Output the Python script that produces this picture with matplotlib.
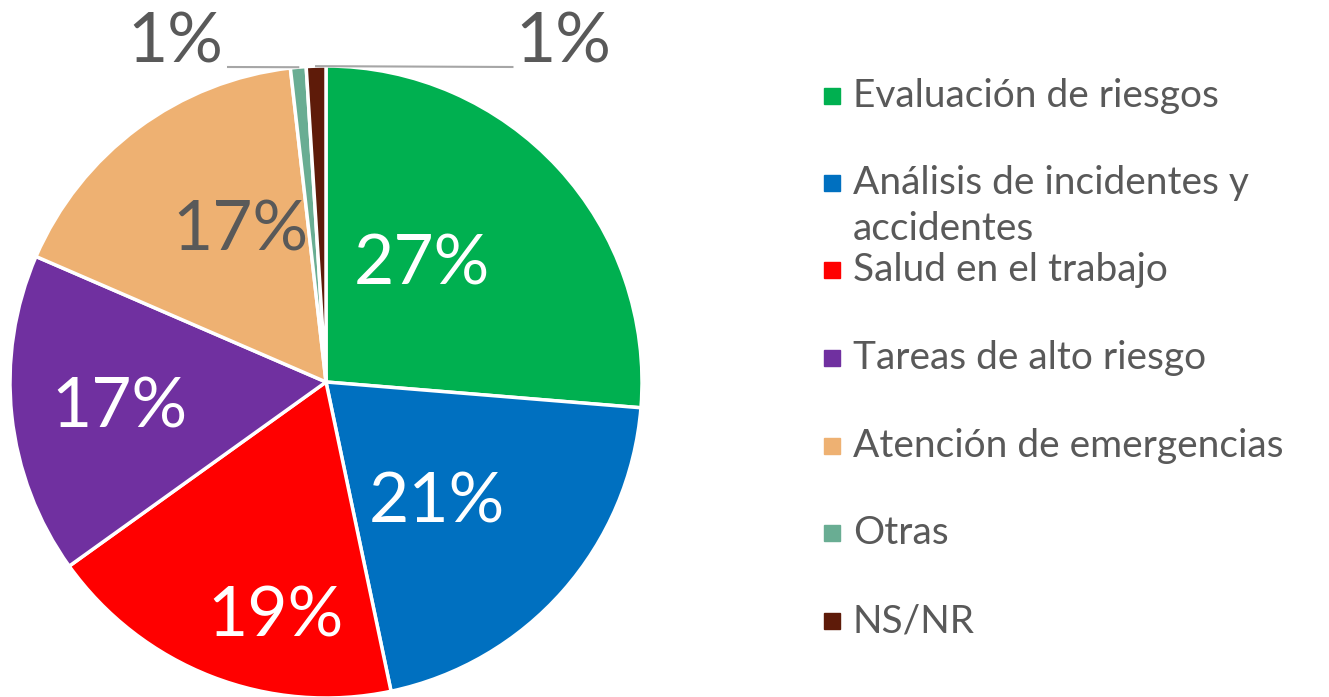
import numpy as np
import matplotlib.pyplot as plt
from matplotlib.patches import Rectangle

categories = ["Evaluación de riesgos", "Análisis de incidentes y\naccidentes",
              "Salud en el trabajo", "Tareas de alto riesgo",
              "Atención de emergencias", "Otras", "NS/NR"]
shares = [26.3, 20.4, 18.4, 16.4, 16.7, 0.8, 1.0]
pct_labels = ["27%", "21%", "19%", "17%", "17%", "1%", "1%"]
colours = ["#00B050", "#0070C0", "#FF0000", "#7030A0", "#EEB172", "#69AD93", "#5E1B09"]

plt.rcParams['font.family'] = ['Lato', 'DejaVu Sans']
grey = "#595959"

W, H = 1329, 697
fig = plt.figure(figsize=(W / 100, H / 100), dpi=100)
cx, cy, r = 326, 382, 316
ax = fig.add_axes([(cx - r) / W, (H - cy - r) / H, 2 * r / W, 2 * r / H])
ax.axis('off')

wedges, _ = ax.pie(shares, colors=colours, startangle=90, counterclock=False,
                   radius=1, wedgeprops=dict(edgecolor='white', linewidth=2.5))
for w in wedges:
    w.set_clip_on(False)
ax.set_xlim(-1, 1)
ax.set_ylim(-1, 1)

# label placement: (radius fraction, angle tweak in degrees)
inside = [(0.48, 8), (0.52, -6), (0.76, 9), (0.66, 1), (0.55, -7)]
text_cols = ['white', 'white', 'white', 'white', grey]
for i, (rr, dt) in enumerate(inside):
    w = wedges[i]
    a = np.deg2rad((w.theta1 + w.theta2) / 2 + dt)
    ax.text(rr * np.cos(a), rr * np.sin(a), pct_labels[i], color=text_cols[i],
            fontsize=50, ha='center', va='center')

# small slices, labels outside with leader lines
for i, (tx, lx) in zip([5, 6], [(-0.478, -0.31), (0.75, 0.59)]):
    w = wedges[i]
    a = np.deg2rad((w.theta1 + w.theta2) / 2)
    px, py = np.cos(a), np.sin(a)
    ly = (cy - 67) / r
    ax.plot([px, lx], [py, ly], color="#A6A6A6", lw=1.5, clip_on=False)
    ax.text(tx, (cy - 43) / r, pct_labels[i], color=grey, fontsize=50,
            ha='center', va='center')

# legend
row_y = [96, 183, 270, 358, 446, 533, 621]
for lab, col, y in zip(categories, colours, row_y):
    fig.patches.append(Rectangle((824 / W, 1 - (y + 8) / H), 16 / W, 16 / H,
                                 transform=fig.transFigure, color=col))
    ty = y + 23 if '\n' in lab else y
    fig.text(853 / W, 1 - ty / H, lab, color=grey, fontsize=28, va='center',
             ha='left', linespacing=1.35)

fig.savefig("out.png", dpi=100)
